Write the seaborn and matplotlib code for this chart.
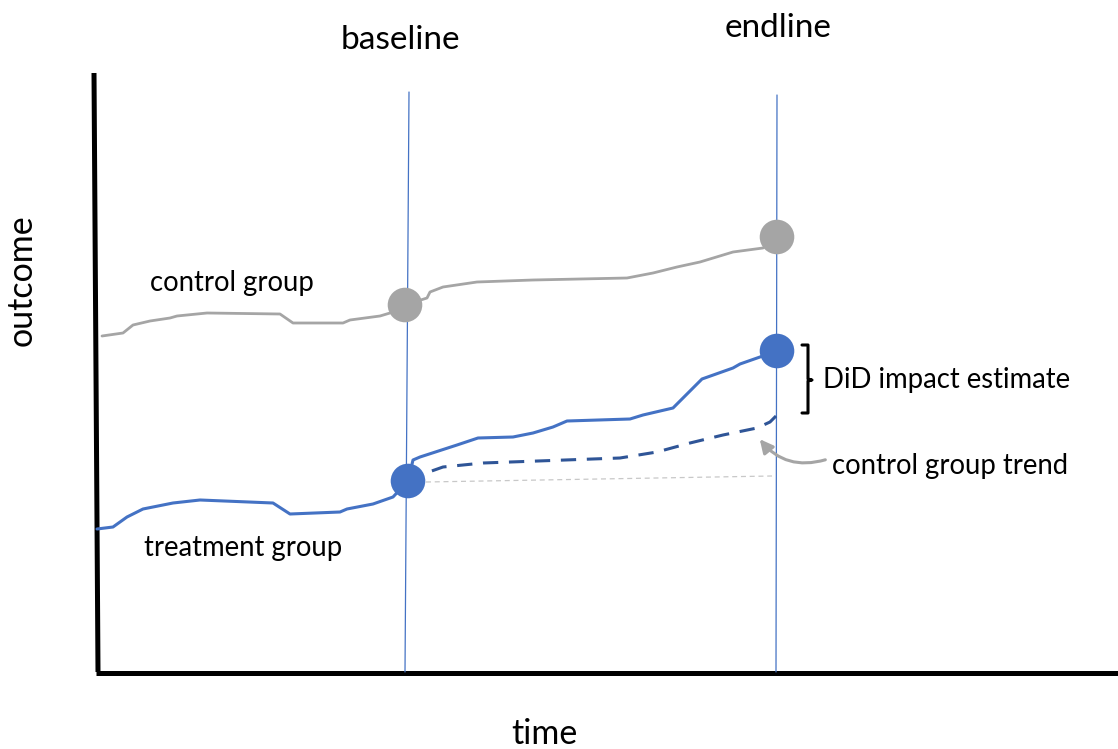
# DiD diagram: control vs treatment outcome over time

import seaborn as sns
import matplotlib.pyplot as plt
import pandas as pd

W, H = 1118, 749

# curves (time, outcome) in picture units
ctrl_t = [102, 123, 133, 150, 170, 177, 207, 280, 293, 343, 350, 380, 390, 405,
          427, 430, 443, 477, 533, 627, 653, 677, 700, 733, 763, 777]
ctrl_y = [413, 416, 424, 428, 431, 433, 436, 435, 426, 426, 429, 433, 436, 444,
          451, 457, 462, 467, 469, 471, 476, 482, 487, 497, 501, 512]

treat_t = [97, 113, 127, 143, 163, 173, 200, 273, 290, 340, 347, 373, 393, 408,
           413, 420, 457, 478, 513, 533, 553, 567, 630, 643, 673, 693, 702, 733,
           740, 760, 777]
treat_y = [220, 222, 232, 240, 244, 246, 249, 246, 235, 237, 240, 245, 252, 268,
           289, 292, 304, 311, 312, 316, 322, 328, 330, 334, 341, 361, 370, 381,
           385, 392, 398]

trend_t = [408, 426, 443, 483, 620, 657, 690, 723, 757, 770, 776]
trend_y = [268, 276, 282, 286, 291, 297, 306, 314, 321, 327, 333]

flat_t = [426, 772]
flat_y = [267, 273]

points_t = [405, 777, 408, 777]
points_y = [444, 512, 268, 398]
points_grp = ["control", "control", "treatment", "treatment"]

gray = "#A5A5A5"
blue = "#4472C4"
dark = "#2F5597"

ctrl = pd.DataFrame({"time": ctrl_t, "outcome": ctrl_y})
treat = pd.DataFrame({"time": treat_t, "outcome": treat_y})
trend = pd.DataFrame({"time": trend_t, "outcome": trend_y})
flat = pd.DataFrame({"time": flat_t, "outcome": flat_y})
pts = pd.DataFrame({"time": points_t, "outcome": points_y, "group": points_grp})

sns.set_style("white")
plt.rcParams["font.family"] = ["Lato", "DejaVu Sans"]
plt.rcParams["text.color"] = "black"

fig = plt.figure(figsize=(W / 100, H / 100), dpi=100)
ax = fig.add_axes([0, 0, 1, 1])
ax.set_xlim(0, W)
ax.set_ylim(0, H)
ax.axis("off")

# axes drawn by hand
ax.plot([94, 98], [H - 73, H - 672], color="black", lw=3.6, solid_capstyle="butt")
ax.plot([96, W], [H - 673, H - 673], color="black", lw=3.6, solid_capstyle="butt")

# baseline / endline markers
ax.plot([409, 405], [H - 92, H - 672], color=blue, lw=0.9)
ax.plot([777, 776], [H - 95, H - 672], color=blue, lw=0.9)

sns.lineplot(x="time", y="outcome", data=ctrl, sort=False, color=gray, lw=2.0, ax=ax)
sns.lineplot(x="time", y="outcome", data=treat, sort=False, color=blue, lw=2.2, ax=ax)
sns.lineplot(x="time", y="outcome", data=flat, sort=False, color="#C8C8C8", lw=0.9,
             linestyle=(0, (4, 3)), ax=ax)
sns.lineplot(x="time", y="outcome", data=trend, sort=False, color=dark, lw=2.2,
             linestyle=(0, (5, 3.5)), ax=ax)
sns.scatterplot(x="time", y="outcome", data=pts, hue="group",
                palette={"control": gray, "treatment": blue}, s=620,
                edgecolor="none", legend=False, zorder=5, ax=ax)

# bracket for the impact estimate
ax.plot([802, 808, 808, 812, 808, 808, 802],
        [H - 345, H - 345, H - 379, H - 380, H - 381, H - 413, H - 413],
        color="black", lw=2.2)

ax.annotate("", xy=(758, H - 437), xytext=(828, H - 459),
            arrowprops=dict(arrowstyle="-|>,head_length=0.8,head_width=0.4",
                            color=gray, lw=2.2,
                            connectionstyle="arc3,rad=-0.35"))

fs = 19.8
ax.text(823, H - 380, "DiD impact estimate", fontsize=fs, va="center", ha="left")
ax.text(832, H - 466, "control group trend", fontsize=fs, va="center", ha="left")
ax.text(232, H - 283, "control group", fontsize=fs, va="center", ha="center")
ax.text(243, H - 548, "treatment group", fontsize=fs, va="center", ha="center")
ax.text(400, H - 40, "baseline", fontsize=24, va="center", ha="center")
ax.text(778, H - 28, "endline", fontsize=24, va="center", ha="center")
ax.text(544, H - 744, "time", fontsize=24.5, va="baseline", ha="center")
ax.text(22, H - 280, "outcome", fontsize=24.5, va="center", ha="center", rotation=90)

fig.savefig("out.png", dpi=100)
